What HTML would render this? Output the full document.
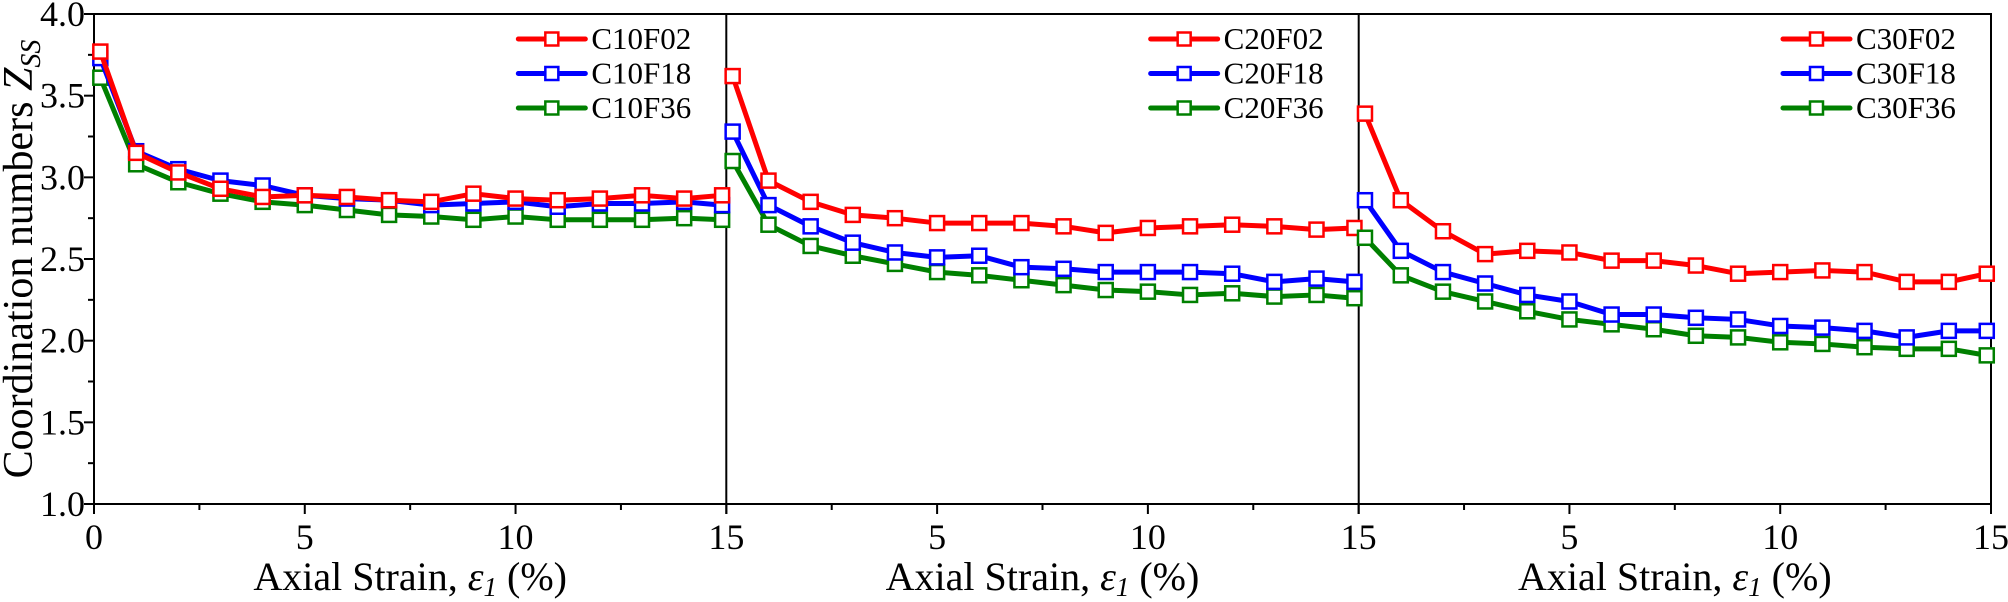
<!DOCTYPE html>
<html><head><meta charset="utf-8"><style>
html,body{margin:0;padding:0;background:#fff;}
svg{display:block;font-family:"Liberation Serif","DejaVu Serif",serif;}
svg text{font-family:"Liberation Serif","DejaVu Serif",serif;fill:#000;}
</style></head><body>
<svg width="2008" height="602" viewBox="0 0 2008 602" xmlns="http://www.w3.org/2000/svg">
<g id="ax" stroke="#000" stroke-width="2" fill="none">
<rect x="94" y="14" width="1897" height="490"/>
<line x1="726.3" y1="14" x2="726.3" y2="504"/>
<line x1="1358.7" y1="14" x2="1358.7" y2="504"/>
</g>
<g id="ticks" stroke="#000" stroke-width="2"></g>
<g id="labels" font-size="36"></g>
<g id="series"></g>
<g id="legend"></g>
<text x="0" y="0" font-size="42" text-anchor="middle" transform="translate(32,259) rotate(-90)">Coordination numbers <tspan font-style="italic">Z</tspan><tspan font-size="28" dy="8" font-style="italic">SS</tspan></text>
</svg>
<script>
const NS="http://www.w3.org/2000/svg";
function el(t,a,p,txt){const e=document.createElementNS(NS,t);for(const k in a)e.setAttribute(k,a[k]);if(txt!==undefined)e.textContent=txt;document.getElementById(p).appendChild(e);return e;}
const X0=94,PW=632.33,Y=v=>504-(v-1)*163.33;
for(let v=1;v<=4.001;v+=0.25){const maj=Math.abs(v*2-Math.round(v*2))<1e-6;el('line',{x1:X0-(maj?10:6),y1:Y(v),x2:X0,y2:Y(v)},'ticks');if(maj)el('text',{x:85,y:Y(v)+12,'text-anchor':'end'},'labels',v.toFixed(1));}
for(let p=0;p<3;p++){const px=X0+p*PW;for(let s=0;s<=15;s+=2.5){const x=px+s*PW/15;const maj=s%5==0;el('line',{x1:x,y1:504,x2:x,y2:504+(maj?10:6)},'ticks');if(maj&&!(p>0&&s==0))el('text',{x:x,y:549,'text-anchor':'middle'},'labels',String(s));}
const t=el('text',{x:px+PW/2,y:590,'text-anchor':'middle','font-size':'40'},'labels');
t.innerHTML='Axial Strain, <tspan font-style="italic">ε</tspan><tspan font-style="italic" font-size="27" dy="6">1</tspan><tspan dy="-6"> (%)</tspan>';}
const xs=[0.15,1,2,3,4,5,6,7,8,9,10,11,12,13,14,14.9];
const data=[
[[3.77,3.15,3.03,2.93,2.88,2.89,2.88,2.86,2.85,2.90,2.87,2.86,2.87,2.89,2.87,2.89],
 [3.73,3.16,3.05,2.98,2.95,2.89,2.87,2.86,2.83,2.84,2.85,2.82,2.84,2.84,2.85,2.83],
 [3.61,3.08,2.97,2.90,2.85,2.83,2.80,2.77,2.76,2.74,2.76,2.74,2.74,2.74,2.75,2.74]],
[[3.62,2.98,2.85,2.77,2.75,2.72,2.72,2.72,2.70,2.66,2.69,2.70,2.71,2.70,2.68,2.69],
 [3.28,2.83,2.70,2.60,2.54,2.51,2.52,2.45,2.44,2.42,2.42,2.42,2.41,2.36,2.38,2.36],
 [3.10,2.71,2.58,2.52,2.47,2.42,2.40,2.37,2.34,2.31,2.30,2.28,2.29,2.27,2.28,2.26]],
[[3.39,2.86,2.67,2.53,2.55,2.54,2.49,2.49,2.46,2.41,2.42,2.43,2.42,2.36,2.36,2.41],
 [2.86,2.55,2.42,2.35,2.28,2.24,2.16,2.16,2.14,2.13,2.09,2.08,2.06,2.02,2.06,2.06],
 [2.63,2.40,2.30,2.24,2.18,2.13,2.10,2.07,2.03,2.02,1.99,1.98,1.96,1.95,1.95,1.91]]];
const cols=['#ff0000','#0000ff','#008000'];
const names=['F02','F18','F36'];
for(let p=0;p<3;p++){const px=X0+p*PW;
 for(let s=2;s>=0;s--){const pts=xs.map((x,i)=>[px+x*PW/15,Y(data[p][s][i])]);
  el('polyline',{points:pts.map(q=>q.join(',')).join(' '),fill:'none',stroke:cols[s],'stroke-width':5,'stroke-linejoin':'round'},'series');
  pts.forEach(q=>el('rect',{x:q[0]-7,y:q[1]-7,width:14,height:14,fill:'#fff',stroke:cols[s],'stroke-width':2.5},'series'));}
 const lx=px+PW-208;
 for(let s=0;s<3;s++){const ly=39+s*34.5;
  el('line',{x1:lx,y1:ly,x2:lx+67,y2:ly,stroke:cols[s],'stroke-width':5,'stroke-linecap':'round'},'legend');
  el('rect',{x:lx+27,y:ly-6.5,width:13,height:13,fill:'#fff',stroke:cols[s],'stroke-width':2.5},'legend');
  el('text',{x:lx+73,y:ly+10,'font-size':'31'},'legend','C'+(p+1)+'0'+names[s]);}
}
</script>
</body></html>
